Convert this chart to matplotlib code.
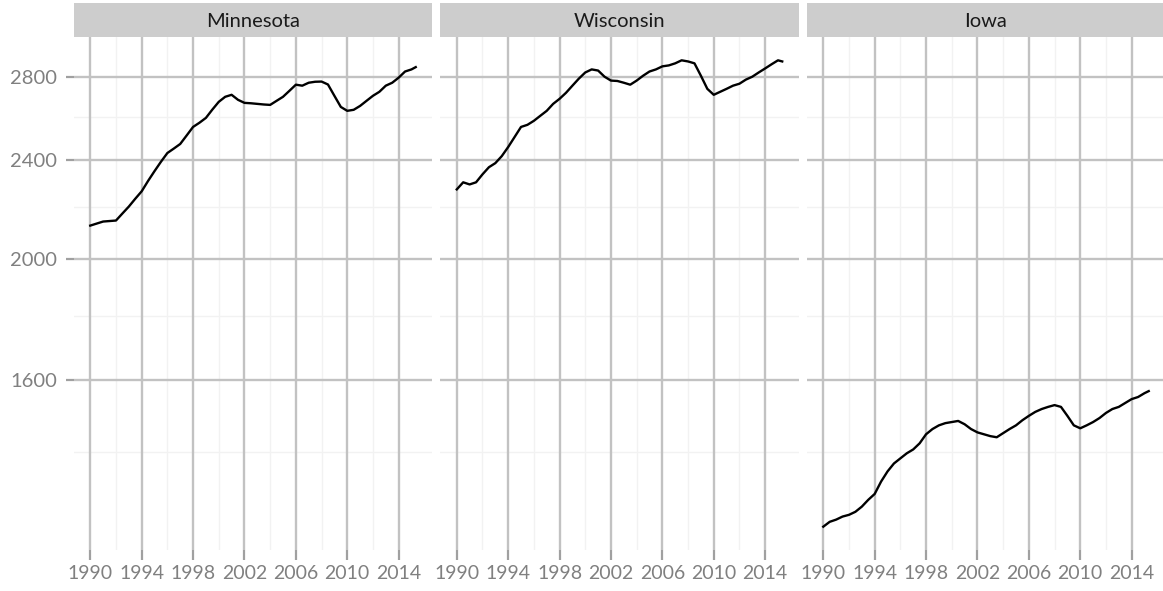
import matplotlib
matplotlib.use("Agg")
import matplotlib.pyplot as plt
import numpy as np

plt.rcParams['font.family'] = ['Lato', 'DejaVu Sans']

# half-year samples, last point is spring 2015
years = list(np.arange(1990, 2015.5, 0.5)) + [2015.33]

minnesota = [2127, 2135, 2143, 2145, 2147, 2175, 2203, 2235, 2266, 2310,
             2352, 2393, 2432, 2452, 2473, 2512, 2552, 2572, 2595, 2635,
             2673, 2698, 2708, 2683, 2668, 2666, 2663, 2660, 2658, 2678,
             2698, 2728, 2759, 2754, 2769, 2774, 2775, 2760, 2703, 2648,
             2629, 2634, 2653, 2678, 2703, 2723, 2754, 2769, 2795, 2827,
             2838, 2850]

wisconsin = [2274, 2304, 2295, 2304, 2338, 2369, 2387, 2418, 2459, 2505,
             2552, 2562, 2581, 2605, 2629, 2663, 2688, 2718, 2754, 2790,
             2822, 2838, 2832, 2800, 2780, 2778, 2769, 2759, 2780, 2805,
             2827, 2838, 2854, 2859, 2870, 2886, 2880, 2870, 2805, 2738,
             2708, 2723, 2738, 2754, 2764, 2785, 2800, 2822, 2843, 2865,
             2886, 2880]

iowa = [1220, 1231, 1236, 1243, 1247, 1254, 1266, 1282, 1296, 1326,
        1351, 1371, 1384, 1397, 1407, 1423, 1447, 1461, 1471, 1477,
        1480, 1483, 1474, 1461, 1452, 1447, 1442, 1439, 1450, 1461,
        1471, 1485, 1497, 1508, 1516, 1522, 1527, 1522, 1497, 1471,
        1463, 1471, 1480, 1491, 1505, 1516, 1522, 1533, 1544, 1550,
        1561, 1567]

states = ["Minnesota", "Wisconsin", "Iowa"]
series = [minnesota, wisconsin, iowa]

y_major = [1600, 2000, 2400, 2800]
y_minor = [1400, 1800, 2200, 2600]
x_major = [1990, 1994, 1998, 2002, 2006, 2010, 2014]
x_minor = [1992, 1996, 2000, 2004, 2008, 2012]

W, H = 1163, 591
fig = plt.figure(figsize=(W / 100, H / 100), dpi=100)

# shared limits with ggplot-like 5% expansion (log y)
allv = minnesota + wisconsin + iowa
lo, hi = np.log10(min(allv)), np.log10(max(allv))
pad = 0.05 * (hi - lo)
ylim = (10 ** (lo - pad), 10 ** (hi + pad))
xpad = 0.05 * (years[-1] - years[0])
xlim = (years[0] - xpad, years[-1] + xpad)

grid_c = '#c2c2c2'
minor_c = '#f2f2f2'
text_c = '#808080'

panel_w = 358
lefts = [74, 440.5, 807]
top, bottom = 37, 550

for i, (name, vals) in enumerate(zip(states, series)):
    ax = fig.add_axes([lefts[i] / W, 1 - bottom / H, panel_w / W, (bottom - top) / H])
    ax.set_yscale('log')
    ax.set_xlim(*xlim)
    ax.set_ylim(*ylim)
    for v in y_minor:
        ax.axhline(v, color=minor_c, lw=1, zorder=0)
    for v in x_minor:
        ax.axvline(v, color=minor_c, lw=1, zorder=0)
    for v in y_major:
        ax.axhline(v, color=grid_c, lw=1.7, zorder=1)
    for v in x_major:
        ax.axvline(v, color=grid_c, lw=1.7, zorder=1)
    ax.plot(years, vals, color='black', lw=1.7, zorder=3)

    for s in ax.spines.values():
        s.set_visible(False)
    ax.set_xticks(x_major)
    ax.set_xticklabels([str(v) for v in x_major])
    ax.xaxis.set_minor_locator(matplotlib.ticker.NullLocator())
    ax.yaxis.set_minor_locator(matplotlib.ticker.NullLocator())
    ax.yaxis.set_minor_formatter(matplotlib.ticker.NullFormatter())
    ax.tick_params(axis='x', length=7, width=1.6, color='#a0a0a0',
                   labelsize=14, labelcolor=text_c, pad=4)
    if i == 0:
        ax.set_yticks(y_major)
        ax.set_yticklabels([str(v) for v in y_major])
        ax.tick_params(axis='y', length=6, width=1.6, color='#a0a0a0',
                       labelsize=14.5, labelcolor=text_c, pad=6)
    else:
        ax.set_yticks([])

    # facet strip
    sax = fig.add_axes([lefts[i] / W, 1 - top / H, panel_w / W, 34 / H])
    sax.set_facecolor('#cdcdcd')
    sax.set_xticks([])
    sax.set_yticks([])
    for s in sax.spines.values():
        s.set_visible(False)
    sax.text(0.5, 0.45, name, ha='center', va='center', fontsize=14.5,
             color='#1a1a1a', transform=sax.transAxes)

fig.savefig('out.png', dpi=100)
